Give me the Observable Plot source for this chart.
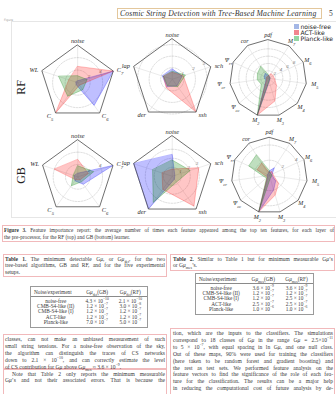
<!DOCTYPE html>
<html>
<head>
<meta charset="utf-8">
<script src="https://cdn.jsdelivr.net/npm/d3@7"></script>
<script src="https://cdn.jsdelivr.net/npm/@observablehq/plot@0.6"></script>
<style>
  html, body { margin: 0; padding: 0; background: #fff; }
  #page { position: relative; width: 336px; height: 394px; overflow: hidden;
          font-family: "Liberation Serif", "DejaVu Serif", serif; color: #383838; }
  .abs { position: absolute; }
  .line { position: absolute; white-space: nowrap; text-align: justify; text-align-last: justify; }
  .line.last { text-align-last: left; }
  .note { position: absolute; border: 0.8px solid #f1b9bb; box-sizing: border-box; }
  sub, sup { font-size: 70%; line-height: 0; }
  table.res { border-collapse: collapse; font-size: 5.3px; color: #3a3a3a; width: 100%; }
  table.res th { font-weight: normal; padding: 1.6px 3px 1.4px; border-bottom: 0.7px solid #8a8a8a; }
  table.res td { padding: 0 3px; line-height: 5.1px; text-align: center; }
  table.res tr.first td { padding-top: 2.2px; }
  .legend-row { position: absolute; font-family: "DejaVu Sans", sans-serif; font-size: 6.1px; color: #222; white-space: nowrap; }
  .legend-row span.sw { display: inline-block; width: 5px; height: 4.5px; margin-right: 1.5px; vertical-align: 0.5px; }
</style>
</head>
<body>
<div id="page"></div>
<script>
// ---------- radar chart data ----------
const seriesNames = ["noise-free", "ACT-like", "Planck-like"];
const seriesColors = ["#0000ff", "#ff1a1a", "#008000"];
const legendSwatches = ["#a4b7e6", "#f2858f", "#94d6a3"];

// feature axes of the three pre-processor layers (clockwise from the top)
const layer1Axes = ["noise", "C_7", "C_6", "C_5", "WL"];
const layer2Axes = ["noise", "sch", "ssh", "der", "lap"];
const layer3Axes = ["pdf", "M_7", "M_6", "M_5", "M_4", "M_3", "M_2", "Ψ_cc", "Ψ_cr", "Ψ_rr", "cor"];

// radial extent and ring ticks of each panel
const rfLayer1Max = 6,   rfLayer1Ticks = [2, 4];
const rfLayer2Max = 3.5, rfLayer2Ticks = [1, 2, 3];
const rfLayer3Max = 10.5, rfLayer3Ticks = [2, 4, 6, 8];
const gbLayer1Max = 6,   gbLayer1Ticks = [2, 4];
const gbLayer2Max = 4.5, gbLayer2Ticks = [1, 2, 3];
const gbLayer3Max = 5,   gbLayer3Ticks = [2, 4];

// RF learner: average number of top-ten appearances per feature
const rfLayer1NoiseFree = [0.3, 6.0, 4.5, 0.4, 0.3];
const rfLayer1Act       = [2.6, 6.0, 0.5, 6.0, 1.5];
const rfLayer1Planck    = [1.1, 1.6, 1.4, 2.7, 3.2];

const rfLayer2NoiseFree = [0.9, 0.9, 0.7, 0.8, 0.9];
const rfLayer2Act       = [0.6, 1.0, 3.5, 0.9, 0.8];
const rfLayer2Planck    = [0.7, 1.2, 0.8, 0.7, 0.8];

const rfLayer3NoiseFree = [0.8, 0.6, 0.5, 0.5, 0.6, 1.0, 10.5, 0.8, 1.0, 1.2, 1.5];
const rfLayer3Act       = [0.6, 1.5, 1.5, 1.8, 3.0, 6.5, 10.5, 0.6, 0.5, 0.5, 0.5];
const rfLayer3Planck    = [1.0, 0.5, 0.5, 0.5, 0.5, 0.8, 10.5, 2.5, 3.0, 3.2, 3.8];

// GB learner
const gbLayer1NoiseFree = [0.6, 6.0, 1.5, 0.8, 0.6];
const gbLayer1Act       = [2.8, 1.8, 0.6, 0.6, 4.0];
const gbLayer1Planck    = [1.8, 2.7, 1.0, 1.8, 0.8];

const gbLayer2NoiseFree = [2.4, 0.3, 0.4, 4.5, 4.5];
const gbLayer2Act       = [0.8, 3.1, 4.1, 1.8, 1.2];
const gbLayer2Planck    = [1.8, 2.1, 0.8, 3.6, 2.3];

const gbLayer3NoiseFree = [0.6, 1.2, 0.4, 0.4, 1.1, 2.0, 5.0, 0.3, 0.3, 0.3, 0.3];
const gbLayer3Act       = [0.4, 0.6, 0.5, 0.6, 1.6, 2.7, 5.0, 0.4, 0.5, 1.8, 1.9];
const gbLayer3Planck    = [0.6, 0.3, 0.3, 0.3, 0.3, 0.4, 5.0, 0.5, 0.8, 3.0, 3.2];

// ---------- table data ----------
const experiments = ["noise-free", "CMB-S4-like (II)", "CMB-S4-like (I)", "ACT-like", "Planck-like"];
const detGBMantissa = [4.3, 1.2, 1.2, 1.2, 7.0], detGBExponent = [-10, -7, -7, -7, -7];
const detRFMantissa = [2.1, 3.0, 1.2, 1.2, 5.0], detRFExponent = [-10, -8, -7, -7, -7];
const mesGBMantissa = [3.6, 1.2, 1.2, 2.5, 1.0], mesGBExponent = [-9, -7, -7, -7, -6];
const mesRFMantissa = [3.6, 1.2, 2.5, 2.5, 1.0], mesRFExponent = [-9, -7, -7, -7, -6];

// ---------- page text ----------
const runningTitle = "Cosmic String Detection with Tree-Based Machine Learning";
const pageNumber = "5";
const figureCaption = [
  "<b>Figure 3.</b> Feature importance report: the average number of times each feature appeared among the top ten features, for each layer of",
  "the pre-processor, for the RF (top) and GB (bottom) learner."
];
const table1Caption = [
  "<b>Table 1.</b> The minimum detectable G<i>μ</i>, or G<i>μ</i><sub>det</sub>, for the two",
  "tree-based algorithms, GB and RF, and for the five experimental",
  "setups."
];
const table2Caption = [
  "<b>Table 2.</b> Similar to Table 1 but for minimum measurable G<i>μ</i>’s",
  "or G<i>μ</i><sub>mes</sub>’s."
];
const leftColumnText = [
  "classes, can not make an unbiased measurement of such",
  "small string tensions. For a noise-free observation of the sky,",
  "the algorithm can distinguish the traces of CS networks",
  "down to 2.1 × 10<sup>−10</sup>, and can correctly estimate the level",
  "of CS contribution for G<i>μ</i> above G<i>μ</i><sub>mes</sub> ≈ 3.6 × 10<sup>−9</sup>.",
  "Note that Table 2 only reports the minimum measurable",
  "G<i>μ</i>’s and not their associated errors. That is because the"
];
const rightColumnText = [
  "tion, which are the inputs to the classifiers. The simulations",
  "correspond to 18 classes of G<i>μ</i> in the range G<i>μ</i> = 2.5×10<sup>−11</sup>",
  "to 5 × 10<sup>−7</sup>, with equal spacing in ln G<i>μ</i>, and one null class.",
  "Out of these maps, 90% were used for training the classifiers",
  "(here taken to be random forest and gradient boosting) and",
  "the rest as test sets. We performed feature analysis on the",
  "feature vectors to find the significance of the role of each fea-",
  "ture for the classification. The results can be a major help",
  "in reducing the computational cost of future analysis by de-"
];

// ---------- helpers ----------
const page = document.getElementById("page");
function place(el, left, top) {
  el.style.position = "absolute";
  el.style.left = left + "px";
  el.style.top = top + "px";
  page.appendChild(el);
  return el;
}
function div(html, cls, left, top, css = {}) {
  const d = document.createElement("div");
  if (cls) d.className = cls;
  d.innerHTML = html;
  Object.assign(d.style, css);
  return place(d, left, top);
}
function box(left, top, width, height, cls = "note", css = {}) {
  const d = document.createElement("div");
  d.className = cls;
  Object.assign(d.style, {width: width + "px", height: height + "px"}, css);
  return place(d, left, top);
}
function textBlock(lines, left, top, width, lineStep, fontSize, lastIdx = [], indentIdx = []) {
  lines.forEach((t, k) => {
    const cls = "line" + (lastIdx.includes(k) ? " last" : "");
    const indent = indentIdx.includes(k) ? 7 : 0;
    div(t, cls, left + indent, top + k * lineStep, {
      width: (width - indent) + "px", fontSize: fontSize + "px", lineHeight: lineStep + "px"
    });
  });
}
// turn "X_ab" labels into base text plus a subscript tspan
function subscriptLabels(svg) {
  svg.querySelectorAll("text").forEach(t => {
    const s = t.textContent;
    if (!s.includes("_")) return;
    const [base, sub] = s.split("_");
    t.textContent = base;
    const ts = document.createElementNS("http://www.w3.org/2000/svg", "tspan");
    ts.setAttribute("baseline-shift", "sub");
    ts.setAttribute("font-size", "0.72em");
    ts.textContent = sub;
    t.appendChild(ts);
  });
}

// ---------- radar panel ----------
function radar({axes, max, ticks, series, cx, cy, R, labelR, labelSize, tickAngle, sideAt}) {
  const n = axes.length;
  const ang = i => 2 * Math.PI * i / n;
  const half = R * 1.55;
  const ringRows = ticks.flatMap(t => d3.range(0, 121).map(k => ({t, a: 2 * Math.PI * k / 120})));
  const idx = d3.range(n);
  const side = i => Math.sin(ang(i)) > sideAt ? "start" : Math.sin(ang(i)) < -sideAt ? "end" : "middle";
  const labelStyle = {
    x: i => labelR * Math.sin(ang(i)), y: i => labelR * Math.cos(ang(i)),
    text: i => axes[i], fontSize: labelSize, fontStyle: "italic",
    fontFamily: "Liberation Serif", fill: "#2a2a2a"
  };
  const marks = [
    Plot.line(ringRows, {
      x: d => d.t / max * Math.sin(d.a), y: d => d.t / max * Math.cos(d.a), z: "t",
      stroke: "#bdbdbd", strokeWidth: 0.5, strokeDasharray: "1.6,1.3"
    }),
    Plot.link(idx, {
      x1: () => 0, y1: () => 0, x2: i => Math.sin(ang(i)), y2: i => Math.cos(ang(i)),
      stroke: "#d6d6d6", strokeWidth: 0.5
    }),
    Plot.text(ticks, {
      x: t => t / max * Math.sin(tickAngle), y: t => t / max * Math.cos(tickAngle),
      text: t => String(t), fontSize: 5, fontStyle: "italic", fill: "#777",
      fontFamily: "Liberation Serif", dy: -1.5
    }),
    ...series.map((vals, s) => Plot.line(vals.map((v, i) => ({v, i})), {
      x: d => d.v / max * Math.sin(ang(d.i)), y: d => d.v / max * Math.cos(ang(d.i)),
      curve: "linear-closed",
      fill: seriesColors[s], fillOpacity: 0.25,
      stroke: seriesColors[s], strokeOpacity: 0.45, strokeWidth: 0.6
    })),
    Plot.line(idx, {
      x: i => Math.sin(ang(i)), y: i => Math.cos(ang(i)), curve: "linear-closed",
      stroke: "#4a4a4a", strokeWidth: 0.8
    }),
    ...["start", "middle", "end"].map(anchor =>
      Plot.text(idx.filter(i => side(i) === anchor), {...labelStyle, textAnchor: anchor}))
  ];
  const svg = Plot.plot({
    width: 2 * half, height: 2 * half, margin: 0,
    x: {domain: [-half / R, half / R], axis: null},
    y: {domain: [-half / R, half / R], axis: null},
    style: {background: "transparent", overflow: "visible"},
    marks
  });
  subscriptLabels(svg);
  place(svg, cx - half, cy - half);
}

// ---------- running head ----------
box(117, 8, 205, 11, "note", {border: "0.8px solid #e3c79c"});
div(runningTitle, "abs", 120, 8.6, {fontSize: "7.7px", fontStyle: "italic", letterSpacing: "0.18px", whiteSpace: "nowrap", color: "#333"});
div(pageNumber, "abs", 329, 8.6, {fontSize: "7.5px", color: "#333"});

// ---------- figure ----------
div("Figure", "abs", 4, 17.5, {fontSize: "3px", color: "#999", fontFamily: "DejaVu Sans"});
box(11, 21, 330, 197, "abs", {border: "0.8px solid #e6e6e6", boxSizing: "border-box"});

const layout = [
  {axes: layer1Axes, max: rfLayer1Max, ticks: rfLayer1Ticks, series: [rfLayer1NoiseFree, rfLayer1Act, rfLayer1Planck], cx: 77, cy: 82.5, R: 37.5, labelR: 1.1, labelSize: 6.4, tickAngle: 1.15, sideAt: 0.3},
  {axes: layer2Axes, max: rfLayer2Max, ticks: rfLayer2Ticks, series: [rfLayer2NoiseFree, rfLayer2Act, rfLayer2Planck], cx: 172, cy: 79, R: 40.5, labelR: 1.1, labelSize: 6.4, tickAngle: 1.15, sideAt: 0.3},
  {axes: layer3Axes, max: rfLayer3Max, ticks: rfLayer3Ticks, series: [rfLayer3NoiseFree, rfLayer3Act, rfLayer3Planck], cx: 268, cy: 77.5, R: 38.5, labelR: 1.13, labelSize: 6, tickAngle: 1.08, sideAt: 0.95},
  {axes: layer1Axes, max: gbLayer1Max, ticks: gbLayer1Ticks, series: [gbLayer1NoiseFree, gbLayer1Act, gbLayer1Planck], cx: 77, cy: 176, R: 37, labelR: 1.1, labelSize: 6.4, tickAngle: 1.15, sideAt: 0.3},
  {axes: layer2Axes, max: gbLayer2Max, ticks: gbLayer2Ticks, series: [gbLayer2NoiseFree, gbLayer2Act, gbLayer2Planck], cx: 172, cy: 176, R: 40.5, labelR: 1.1, labelSize: 6.4, tickAngle: 1.15, sideAt: 0.3},
  {axes: layer3Axes, max: gbLayer3Max, ticks: gbLayer3Ticks, series: [gbLayer3NoiseFree, gbLayer3Act, gbLayer3Planck], cx: 269, cy: 175, R: 38, labelR: 1.13, labelSize: 6, tickAngle: 1.08, sideAt: 0.95}
];
layout.forEach(radar);

// row titles
div("RF", "abs", 14, 80, {fontSize: "12px", transform: "rotate(-90deg)", transformOrigin: "center", color: "#222"});
div("GB", "abs", 13, 168, {fontSize: "12px", transform: "rotate(-90deg)", transformOrigin: "center", color: "#222"});

// legend
seriesNames.forEach((name, s) => {
  div(`<span class="sw" style="background:${legendSwatches[s]}"></span>${name}`, "legend-row", 294, 23 + s * 6);
});

// ---------- figure caption ----------
box(2, 225, 333, 17);
textBlock(figureCaption, 4, 226.5, 330, 7, 5.25, [1]);

// ---------- table captions ----------
box(3, 254, 164, 23);
textBlock(table1Caption, 5, 255.5, 160, 6.8, 5.5, [2]);
box(170, 254, 165, 17);
textBlock(table2Caption, 173, 255.5, 160, 6.8, 5.5, [1]);

// ---------- tables ----------
const sci = (m, e) => `${m.toFixed(1)} × 10<sup>−${-e}</sup>`;
function table(colA, colAExp, colB, colBExp, tag, left, top, width) {
  const head = `<tr><th style="text-align:left">Noise/experiment</th><th>G<i>μ</i><sub>${tag}</sub>(GB)</th><th>G<i>μ</i><sub>${tag}</sub>(RF)</th></tr>`;
  const body = experiments.map((ex, k) =>
    `<tr class="${k === 0 ? "first" : ""}"><td>${ex}</td><td>${sci(colA[k], colAExp[k])}</td><td>${sci(colB[k], colBExp[k])}</td></tr>`).join("");
  return div(`<table class="res">${head}${body}</table>`, "abs", left, top,
    {width: width + "px", border: "0.8px solid #9a9a9a", boxSizing: "border-box", paddingBottom: "2px"});
}
table(detGBMantissa, detGBExponent, detRFMantissa, detRFExponent, "det", 30, 286, 118);
table(mesGBMantissa, mesGBExponent, mesRFMantissa, mesRFExponent, "mes", 195, 273, 119);

// ---------- body text ----------
box(3, 334, 164, 35);
box(3, 369, 164, 30);
textBlock(leftColumnText, 5, 336, 160, 6.9, 5.55, [4], [5]);
box(170, 328, 165, 70);
textBlock(rightColumnText, 173, 330, 160, 6.9, 5.55, []);
</script>
</body>
</html>
